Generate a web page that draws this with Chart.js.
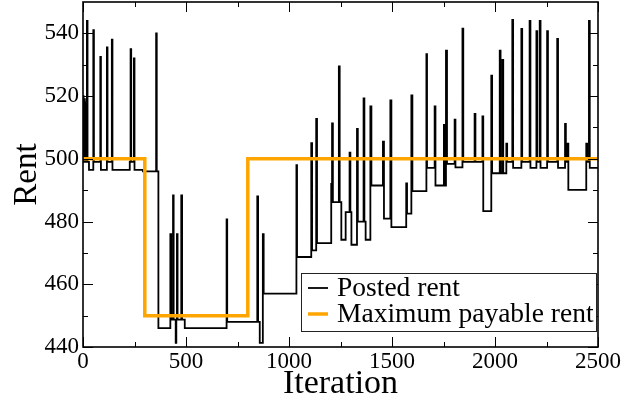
<!DOCTYPE html>
<html>
<head>
<meta charset="utf-8">
<script src="https://cdn.jsdelivr.net/npm/chart.js@4.4.1/dist/chart.umd.min.js"></script>
<style>
  html, body { margin: 0; padding: 0; background: #fff; }
</style>
</head>
<body>
<canvas id="grafico" width="624" height="405"></canvas>
<script>
// dados (iteracao onde o aluguel muda, e o novo valor)
const postedIter = [0, 3, 6, 9, 12, 15, 19, 22, 29, 50, 53, 84, 87, 116, 119, 140, 143, 227, 231, 234, 247, 250, 291, 355, 358,
  366, 424, 428, 437, 440, 450, 453, 456, 459, 477, 481, 494, 697, 700, 846, 850, 858, 873, 877,
  1036, 1039, 1108, 1112, 1132, 1136, 1205, 1209, 1213, 1242, 1246, 1254, 1275, 1294, 1298, 1303, 1330, 1334, 1362, 1366,
  1372, 1395, 1400, 1456, 1461, 1492, 1497, 1569, 1573, 1594, 1599, 1667, 1670, 1707, 1711, 1752, 1756, 1762, 1767,
  1804, 1808, 1842, 1846, 1901, 1905, 1939, 1943, 1982, 1986, 2023, 2027, 2036, 2040, 2055, 2059, 2084, 2088,
  2128, 2132, 2168, 2172, 2201, 2205, 2217, 2221, 2253, 2257, 2302, 2306, 2340, 2344, 2352, 2356, 2443, 2447, 2456, 2460, 2500];
const postedRent = [520, 499, 519, 499, 518, 499, 544, 499, 496.5, 541, 499, 532.5, 496.5, 535.5, 499, 538, 496.5, 499, 535, 499, 532, 496.5, 496, 540, 496,
  446, 476, 448.7, 488.3, 448.7, 441.3, 448.7, 476, 448.7, 488.3, 448.7, 446, 480.7, 448, 488, 448, 441.3, 476, 457,
  498, 468.7, 505, 470.8, 512.7, 473.1, 492, 511.3, 486.2, 529.5, 486.2, 474.2, 483, 502, 483, 472.6, 509.5, 480, 519.3, 480,
  474.2, 516.7, 491.5, 505.5, 480.9, 518.6, 478.2, 492.2, 482.5, 520.2, 489.7, 533.4, 497.1, 516.7, 491.5, 510.8, 491.5, 534.5, 498.4,
  512.5, 497.3, 541.5, 499, 514.3, 499, 513.5, 483.3, 526.5, 495.4, 534.5, 495.4, 531.5, 495.4, 504.8, 499, 544.3, 497.1,
  541.4, 499, 544, 497.1, 540.7, 499, 544, 497.1, 540.7, 499, 538.2, 497.1, 511.1, 499, 504.8, 490.1, 504.8, 499, 544, 497.1, 497.1];

const maxIter = [0, 300, 800, 2500];
const maxRent = [500, 450, 500, 500];

const xTicks = [0, 500, 1000, 1500, 2000, 2500];
const xMinor = [250, 750, 1250, 1750, 2250];
const yTicks = [440, 460, 480, 500, 520, 540];
const yMinor = [450, 470, 490, 510, 530];

const fonte = "'Liberation Serif', 'Times New Roman', serif";

const juntaPontos = (xs, ys) => xs.map((x, i) => ({ x: x, y: ys[i] }));

// moldura e marcas para dentro, como no xmgrace
const moldura = {
  id: 'moldura',
  afterDatasetsDraw(chart) {
    const { ctx, chartArea: a, scales } = chart;
    ctx.save();
    ctx.strokeStyle = '#000';
    ctx.lineWidth = 1;
    ctx.beginPath();
    const marca = (lista, tam) => {
      for (let v of lista) {
        const px = Math.round(scales.x.getPixelForValue(v)) + 0.5;
        ctx.moveTo(px, a.bottom); ctx.lineTo(px, a.bottom - tam);
        ctx.moveTo(px, a.top); ctx.lineTo(px, a.top + tam);
      }
    };
    const marcaY = (lista, tam) => {
      for (let v of lista) {
        const py = Math.round(scales.y.getPixelForValue(v)) + 0.5;
        ctx.moveTo(a.left, py); ctx.lineTo(a.left + tam, py);
        ctx.moveTo(a.right, py); ctx.lineTo(a.right - tam, py);
      }
    };
    marca(xTicks, 10); marca(xMinor, 5);
    marcaY(yTicks, 10); marcaY(yMinor, 5);
    ctx.stroke();
    ctx.lineWidth = 1.6;
    ctx.strokeRect(a.left, a.top, a.right - a.left, a.bottom - a.top);
    ctx.restore();
  }
};

// legenda com caixa no canto inferior direito
const legendaCaixa = {
  id: 'legendaCaixa',
  afterDatasetsDraw(chart) {
    const ctx = chart.ctx;
    ctx.save();
    ctx.fillStyle = '#fff';
    ctx.fillRect(301, 273, 296, 59);
    ctx.strokeStyle = '#222';
    ctx.lineWidth = 1;
    ctx.strokeRect(301.5, 273.5, 295, 58);
    const linhas = [288, 314];
    chart.data.datasets.forEach((ds, i) => {
      ctx.strokeStyle = ds.borderColor;
      ctx.lineWidth = ds.borderWidth;
      ctx.beginPath();
      ctx.moveTo(308, linhas[i]); ctx.lineTo(328, linhas[i]);
      ctx.stroke();
      ctx.fillStyle = '#000';
      ctx.font = '27.5px ' + fonte;
      ctx.textBaseline = 'middle';
      ctx.fillText(ds.label, 337, linhas[i] + 1);
    });
    ctx.restore();
  }
};

new Chart(document.getElementById('grafico'), {
  type: 'line',
  data: {
    datasets: [
      {
        label: 'Posted rent',
        data: juntaPontos(postedIter, postedRent),
        borderColor: '#000000',
        borderWidth: 1.8,
        stepped: true,
        pointRadius: 0,
        order: 1
      },
      {
        label: 'Maximum payable rent',
        data: juntaPontos(maxIter, maxRent),
        borderColor: '#FFA500',
        borderWidth: 3.5,
        stepped: true,
        pointRadius: 0,
        order: 0
      }
    ]
  },
  options: {
    responsive: false,
    animation: false,
    devicePixelRatio: 1,
    layout: { padding: { top: 2, right: 26, left: 0, bottom: 0 } },
    plugins: {
      legend: { display: false },
      tooltip: { enabled: false }
    },
    scales: {
      x: {
        type: 'linear',
        min: 0,
        max: 2500,
        grid: { display: false, drawTicks: false },
        border: { display: false },
        afterBuildTicks: (s) => { s.ticks = xTicks.map(v => ({ value: v })); },
        afterFit: (s) => { s.height = 58; s.paddingLeft = 0; s.paddingRight = 0; },
        ticks: {
          autoSkip: false, maxRotation: 0, padding: 1,
          color: '#000', font: { family: fonte, size: 23 },
          callback: (v) => String(v)
        },
        title: {
          display: true, text: 'Iteration', color: '#000',
          font: { family: fonte, size: 34 }, padding: { top: 0, bottom: 1 }
        }
      },
      y: {
        min: 440,
        max: 550,
        grid: { display: false, drawTicks: false },
        border: { display: false },
        afterBuildTicks: (s) => { s.ticks = yTicks.map(v => ({ value: v })); },
        afterFit: (s) => { s.width = 83; s.paddingTop = 0; s.paddingBottom = 0; },
        ticks: {
          autoSkip: false, padding: 4,
          color: '#000', font: { family: fonte, size: 23 },
          callback: (v) => String(v)
        },
        title: {
          display: true, text: 'Rent', color: '#000',
          font: { family: fonte, size: 33 }, padding: { top: 8, bottom: 0 }
        }
      }
    }
  },
  plugins: [moldura, legendaCaixa]
});
</script>
</body>
</html>
